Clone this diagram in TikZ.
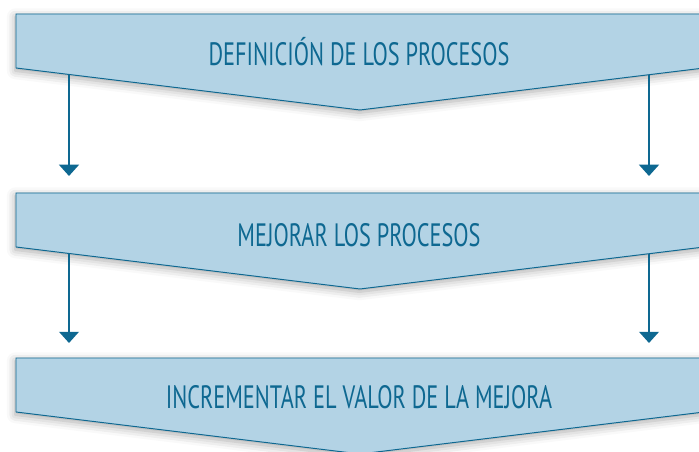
\documentclass[tikz,border=0pt]{standalone}
\usepackage{fontspec}
\setmainfont{PT Sans}[FakeStretch=0.69]
\usetikzlibrary{shadows.blur,arrows.meta}
\definecolor{stageblue}{RGB}{179,211,229}
\definecolor{stageline}{RGB}{14,104,145}
\tikzset{
  stage/.style={draw=stageline, fill=stageblue, line width=0.7pt,
    blur shadow={shadow xshift=-0.5pt, shadow yshift=-2pt, shadow blur radius=6pt, shadow opacity=35}},
  stagetext/.style={text=stageline, font=\fontsize{23}{27}\selectfont},
  flow/.style={draw=stageline, line width=1.5pt, -{Triangle[width=14pt,length=8pt]}}
}
\begin{document}
\begin{tikzpicture}
  \useasboundingbox (0,0) rectangle (17.475,-11.3);
  % stages
  \draw[stage] (0.4,-0.35) -- (17.6,-0.35) -- (17.6,-1.7) -- (9.0,-2.75) -- (0.4,-1.7) -- cycle;
  \draw[stage] (0.4,-4.825) -- (17.6,-4.825) -- (17.6,-6.175) -- (9.0,-7.225) -- (0.4,-6.175) -- cycle;
  \draw[stage] (0.4,-8.95) -- (17.6,-8.95) -- (17.6,-10.3) -- (9.0,-11.35) -- (0.4,-10.3) -- cycle;
  \node[stagetext] (def) at (8.975,-1.3) {DEFINICIÓN DE LOS PROCESOS};
  \node[stagetext] (mej) at (8.975,-5.875) {MEJORAR LOS PROCESOS};
  \node[stagetext] (inc) at (8.975,-9.925) {INCREMENTAR EL VALOR DE LA MEJORA};
  % arrow ends
  \coordinate (defL) at (1.725,-1.862);
  \coordinate (defR) at (16.225,-1.868);
  \coordinate (mejL) at (1.725,-6.337);
  \coordinate (mejR) at (16.225,-6.343);
  \coordinate (mejInL) at (1.725,-4.4);
  \coordinate (mejInR) at (16.225,-4.4);
  \coordinate (incInL) at (1.725,-8.575);
  \coordinate (incInR) at (16.225,-8.575);
  \draw[flow] (defL) -- (mejInL);
  \draw[flow] (defR) -- (mejInR);
  \draw[flow] (mejL) -- (incInL);
  \draw[flow] (mejR) -- (incInR);
\end{tikzpicture}
\end{document}
